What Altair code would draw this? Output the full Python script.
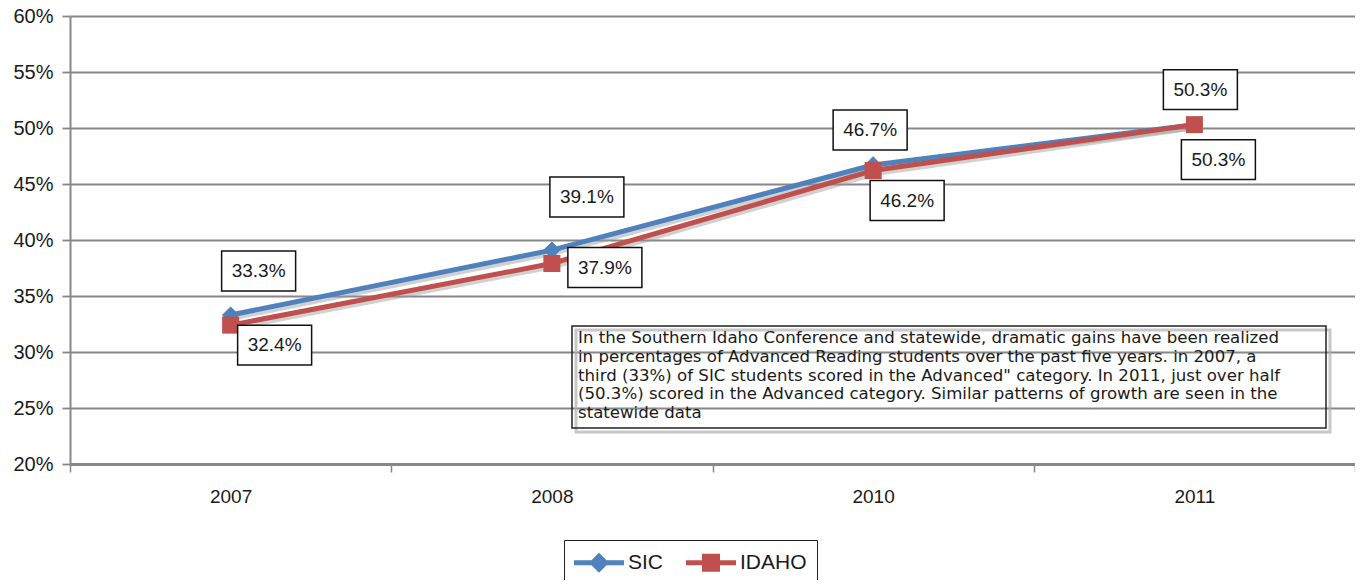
import altair as alt
import pandas as pd

# ---------------- data ----------------
years = ["2007", "2008", "2010", "2011"]
series_names = ["SIC", "IDAHO"]
sic_values = [0.333, 0.391, 0.467, 0.503]
idaho_values = [0.324, 0.379, 0.462, 0.503]
y_ticks = [0.20, 0.25, 0.30, 0.35, 0.40, 0.45, 0.50, 0.55, 0.60]

note_lines = [
    "In the Southern Idaho Conference and statewide, dramatic gains have been realized",
    "in percentages of Advanced Reading students over the past five years. in 2007, a",
    "third (33%) of SIC students scored in the Advanced\" category.  In 2011, just over half",
    "(50.3%) scored in the Advanced category. Similar patterns of growth are seen in the",
    "statewide data",
]

# ---------------- styles / placement ----------------
PLOT_W = 1285
PLOT_H = 448
Y_MIN, Y_MAX = 0.2, 0.6
BAND = PLOT_W / len(years)
PX_PER_UNIT = PLOT_H / (Y_MAX - Y_MIN)

sic_label_dx = [28, 35, -3, 6]
sic_label_dy = [-44, -53, -35, -35]
idaho_label_dx = [44, 53, 34, 24]
idaho_label_dy = [20, 4, 30, 35]

BLUE = "#4F81BD"
RED = "#C0504D"
GRID = "#878787"
TEXT = "#1a1a1a"

rows = []
for name, vals, ldx, ldy in [
    ("SIC", sic_values, sic_label_dx, sic_label_dy),
    ("IDAHO", idaho_values, idaho_label_dx, idaho_label_dy),
]:
    for yr, v, dx, dy in zip(years, vals, ldx, ldy):
        rows.append({
            "year": yr, "series": name, "value": v,
            "label": f"{v * 100:.1f}%",
            "ox": dx + BAND / 2,
            "ly": v - dy / PX_PER_UNIT,
        })
df = pd.DataFrame(rows)

x_scale = alt.Scale(domain=years, paddingInner=0, paddingOuter=0)
x_axis = alt.Axis(title=None, labelAngle=0, tickBand="extent", grid=False,
                  domainColor=GRID, domainWidth=3, tickColor=GRID, tickSize=8,
                  tickWidth=1.5, labelFont="Liberation Sans", labelFontSize=19,
                  labelColor=TEXT, labelPadding=15)
y_scale = alt.Scale(domain=[Y_MIN, Y_MAX], nice=False, zero=False)
y_axis = alt.Axis(title=None, values=y_ticks, format=".0%", grid=True,
                  gridColor=GRID, gridWidth=1.8, domainColor=GRID, domainWidth=2,
                  tickColor=GRID, tickSize=8, tickWidth=1.8,
                  labelFont="Liberation Sans", labelFontSize=20, labelColor=TEXT,
                  labelPadding=9)

x_enc = alt.X("year:N", sort=years, scale=x_scale, axis=x_axis)
y_enc = alt.Y("value:Q", scale=y_scale, axis=y_axis)
ly_enc = alt.Y("ly:Q", scale=y_scale, axis=y_axis)

layers = []

for name, color, shape, size in [("SIC", BLUE, "diamond", 300), ("IDAHO", RED, "square", 290)]:
    base = alt.Chart(df).transform_filter(alt.datum.series == name)
    shadow = base.mark_line(strokeWidth=5, color="#9a9a9a", opacity=0.45).encode(
        x=x_enc, y=y_enc,
        xOffset=alt.XOffset(value=BAND / 2 + 2), yOffset=alt.YOffset(value=3))
    line = base.mark_line(strokeWidth=5, color=color).encode(x=x_enc, y=y_enc)
    pts = base.mark_point(filled=True, shape=shape, size=size, color=color, opacity=1).encode(
        x=x_enc, y=y_enc)
    layers += [shadow, line, pts]

BOX_PATH = "M-1,-0.54L1,-0.54L1,0.54L-1,0.54Z"
boxes = alt.Chart(df).mark_point(
    shape=BOX_PATH, size=74 * 74, filled=True, fill="white", stroke="#111",
    strokeWidth=1.5, opacity=1,
).encode(
    x=x_enc, y=ly_enc,
    xOffset=alt.XOffset("ox:Q", scale=None),
)
labels = alt.Chart(df).mark_text(
    font="Liberation Sans", fontSize=19, color=TEXT, align="center", baseline="middle",
).encode(
    x=x_enc, y=ly_enc,
    xOffset=alt.XOffset("ox:Q", scale=None),
    text="label:N",
)
layers += [boxes, labels]

# annotation text box
note_df = pd.DataFrame({"k": [0]})
note_shadow = alt.Chart(note_df).mark_rect(fill=None, stroke="#b0b0b0", strokeWidth=3, opacity=0.7).encode(
    x=alt.value(506), x2=alt.value(1260), y=alt.value(314), y2=alt.value(416))
note_box = alt.Chart(note_df).mark_rect(fill=None, stroke="#222", strokeWidth=1.5).encode(
    x=alt.value(502), x2=alt.value(1256), y=alt.value(310), y2=alt.value(412))
note_text = alt.Chart(note_df).mark_text(
    text=note_lines, font="DejaVu Sans", fontSize=16.6, lineHeight=18.8, color=TEXT,
    align="left", baseline="top",
).encode(x=alt.value(508), y=alt.value(314))
layers += [note_shadow, note_box, note_text]

# legend driver (no visible marks)
SIC_SYM = "M-1,-0.2L3,-0.2L3,0.2L-1,0.2Z M1,-0.8L1.8,0L1,0.8L0.2,0Z"
IDAHO_SYM = "M-1,-0.2L3,-0.2L3,0.2L-1,0.2Z M0.28,-0.72L1.72,-0.72L1.72,0.72L0.28,0.72Z"
leg = dict(title=None, orient="none", legendX=494, legendY=524, direction="horizontal",
           labelFont="Liberation Sans", labelFontSize=21, labelColor=TEXT,
           symbolSize=625, symbolStrokeWidth=0, symbolOpacity=1,
           strokeColor="#222", fillColor="white", padding=10,
           columnPadding=22, labelOffset=29)
legend_layer = alt.Chart(df).transform_filter("false").mark_point(filled=True, opacity=1).encode(
    x=x_enc, y=y_enc,
    color=alt.Color("series:N", scale=alt.Scale(domain=series_names, range=[BLUE, RED]),
                    legend=alt.Legend(**leg)),
    shape=alt.Shape("series:N", scale=alt.Scale(domain=series_names, range=[SIC_SYM, IDAHO_SYM]),
                    legend=alt.Legend(**leg)),
)
layers.append(legend_layer)

chart = alt.layer(*layers).properties(
    width=PLOT_W, height=PLOT_H,
    autosize=alt.AutoSizeParams(type="none"),
    padding={"left": 62, "top": 8, "right": 0, "bottom": 116},
    background="white",
).configure_view(stroke=None)

chart.save("out.html", embed_options={"renderer": "svg", "actions": False})
